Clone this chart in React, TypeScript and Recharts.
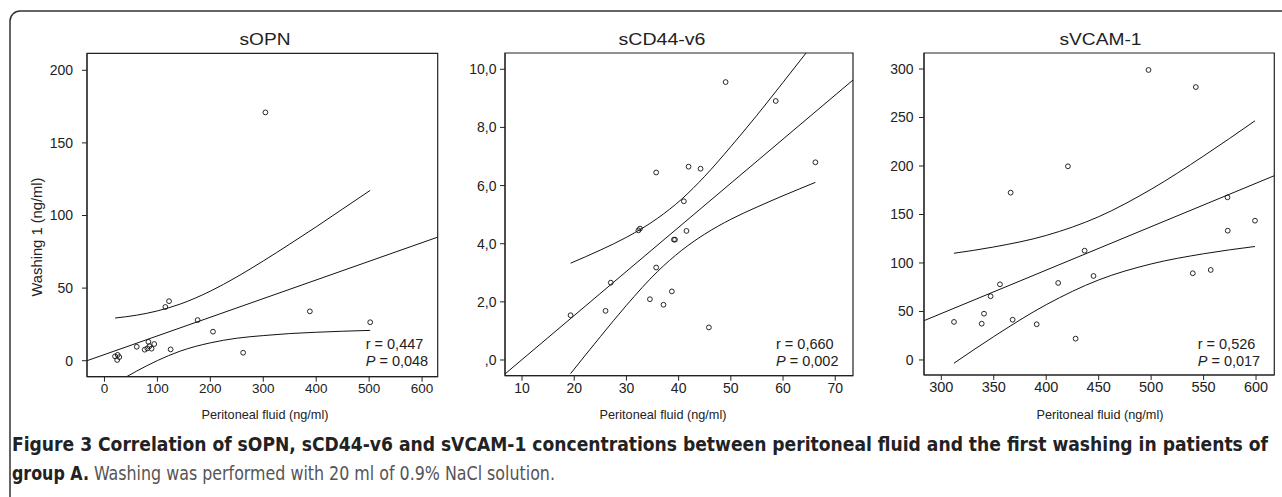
import React from 'react';
import { ComposedChart, XAxis, YAxis, Scatter, Line, ReferenceArea } from 'recharts';

// ---------- sOPN ----------
const opnX = [304, 122, 115, 176, 205, 388, 502, 262, 125, 61, 83, 94, 76, 81, 89, 85, 20, 25, 28, 24];
const opnY = [171, 41, 37, 28, 20, 34, 26.5, 5.5, 7.8, 9.6, 13, 11.5, 7.6, 8.5, 8.3, 10, 3, 4, 2.5, 0.5];
const opnFitX = [-33, 629.5];
const opnFitY = [0, 85.1];
const opnBandX = [20, 60, 100, 143, 200, 250, 300, 350, 400, 450, 502];
const opnUpper = [29.4, 31.3, 34.3, 39.0, 47.9, 57.7, 68.7, 80.3, 92.2, 104.5, 117.3];
const opnLower = [-15.6, -7.3, 0.1, 6.6, 12.3, 15.5, 17.3, 18.7, 19.6, 20.3, 20.9];
const opnXTicks = [0, 100, 200, 300, 400, 500, 600];
const opnXLabels = ['0', '100', '200', '300', '400', '500', '600'];
const opnYTicks = [0, 50, 100, 150, 200];
const opnYLabels = ['0', '50', '100', '150', '200'];

// ---------- sCD44-v6 ----------
const cdX = [49.0, 58.6, 66.2, 35.7, 41.9, 44.2, 41.0, 32.3, 32.6, 39.1, 39.3, 41.5, 35.7, 27.0, 19.3, 26.0, 34.5, 37.1, 38.7, 45.8];
const cdY = [9.56, 8.91, 6.80, 6.45, 6.65, 6.58, 5.46, 4.46, 4.52, 4.14, 4.14, 4.44, 3.18, 2.66, 1.54, 1.69, 2.09, 1.90, 2.36, 1.12];
const cdFitX = [6.74, 73.4];
const cdFitY = [-0.48, 9.63];
const cdBandX = [19.3, 25, 30, 36, 40.5, 45, 50, 55, 60, 66.2];
const cdUpper = [3.33, 3.78, 4.22, 4.88, 5.52, 6.32, 7.34, 8.42, 9.55, 10.97];
const cdLower = [-0.47, 0.80, 1.88, 3.05, 3.76, 4.33, 4.84, 5.26, 5.65, 6.11];
const cdXTicks = [10, 20, 30, 40, 50, 60, 70];
const cdXLabels = ['10', '20', '30', '40', '50', '60', '70'];
const cdYTicks = [0, 2, 4, 6, 8, 10];
const cdYLabels = [',0', '2,0', '4,0', '6,0', '8,0', '10,0'];

// ---------- sVCAM-1 ----------
const vcX = [497.5, 542.6, 420.7, 366.1, 572.8, 599, 573, 436.6, 445.1, 411.4, 355.9, 347, 340.7, 338.5, 312.1, 368, 390.9, 428, 539.7, 556.8];
const vcY = [299, 281.4, 199.7, 172.5, 167.7, 143.6, 133.3, 112.7, 86.6, 79.4, 78, 65.7, 47.7, 37.4, 39.2, 41.5, 36.8, 22, 89.4, 92.8];
const vcFitX = [283.5, 617.4];
const vcFitY = [40.5, 190];
const vcBandX = [312, 350, 400, 450, 500, 550, 599];
const vcUpper = [110, 116.5, 128.4, 147.7, 176, 210.3, 246.6];
const vcLower = [-3.4, 24.1, 57.0, 82.5, 99, 109.5, 117];
const vcXTicks = [300, 350, 400, 450, 500, 550, 600];
const vcXLabels = ['300', '350', '400', '450', '500', '550', '600'];
const vcYTicks = [0, 50, 100, 150, 200, 250, 300];
const vcYLabels = ['0', '50', '100', '150', '200', '250', '300'];

const titles = ['sOPN', 'sCD44-v6', 'sVCAM-1'];
const stats = [['0,447', '0,048'], ['0,660', '0,002'], ['0,526', '0,017']];
const xTitle = 'Peritoneal fluid (ng/ml)';
const yTitle = 'Washing 1 (ng/ml)';
const captionBold1 = 'Figure 3 Correlation of sOPN, sCD44-v6 and sVCAM-1 concentrations between peritoneal fluid and the first washing in patients of';
const captionBold2 = 'group A.';
const captionRest = ' Washing was performed with 20 ml of 0.9% NaCl solution.';

type Pt = { x: number; y: number };
const zip = (xs: number[], ys: number[]): Pt[] => xs.map((x, i) => ({ x, y: ys[i] }));

const FONT = '"Liberation Sans", Arial, Helvetica, sans-serif';
const NARROW = '"Liberation Sans Narrow", "DejaVu Sans Condensed", "Liberation Sans", Arial, sans-serif';

const Dot = (props: any) => (
  <circle cx={props.cx} cy={props.cy} r={2.4} fill="none" stroke="#111" strokeWidth={0.9} />
);

type PanelProps = {
  plot: [number, number, number, number];
  xDomain: [number, number];
  yDomain: [number, number];
  xTicks: number[];
  xLabels: string[];
  yTicks: number[];
  yLabels: string[];
  points: Pt[];
  fit: Pt[];
  upper: Pt[];
  lower: Pt[];
  xFont: number;
  yFont: number;
  yTickMargin: number;
};

function Panel(p: PanelProps) {
  const yW = 70;
  const left = p.plot[0] - yW;
  const width = p.plot[2] - left + 10;
  const height = p.plot[3] + 40;
  return (
    <div style={{ position: 'absolute', left, top: 0 }}>
      <ComposedChart width={width} height={height} margin={{ top: p.plot[1], right: 10, bottom: 10, left: 0 }}>
        <XAxis
          dataKey="x"
          type="number"
          domain={p.xDomain}
          ticks={p.xTicks}
          allowDataOverflow
          interval={0}
          height={30}
          tickSize={5}
          tickMargin={2}
          stroke="#222"
          tick={{ fontSize: p.xFont, fill: '#222', fontFamily: FONT }}
          tickFormatter={(v: number) => p.xLabels[p.xTicks.indexOf(v)]}
        />
        <YAxis
          dataKey="y"
          type="number"
          domain={p.yDomain}
          ticks={p.yTicks}
          allowDataOverflow
          interval={0}
          width={yW}
          tickSize={5}
          tickMargin={p.yTickMargin}
          stroke="#222"
          tick={{ fontSize: p.yFont, fill: '#222', fontFamily: FONT }}
          tickFormatter={(v: number) => p.yLabels[p.yTicks.indexOf(v)]}
        />
        <ReferenceArea
          x1={p.xDomain[0]}
          x2={p.xDomain[1]}
          y1={p.yDomain[0]}
          y2={p.yDomain[1]}
          fill="none"
          fillOpacity={0}
          stroke="#222"
          strokeWidth={1.2}
          ifOverflow="visible"
        />
        <Line data={p.fit} dataKey="y" type="linear" stroke="#111" strokeWidth={1} dot={false} activeDot={false} isAnimationActive={false} />
        <Line data={p.upper} dataKey="y" type="monotone" stroke="#111" strokeWidth={1} dot={false} activeDot={false} isAnimationActive={false} />
        <Line data={p.lower} dataKey="y" type="monotone" stroke="#111" strokeWidth={1} dot={false} activeDot={false} isAnimationActive={false} />
        <Scatter data={p.points} dataKey="y" shape={Dot} isAnimationActive={false} />
      </ComposedChart>
    </div>
  );
}

const titleX = [265, 662, 1100.5];
const titleLen = [51, 87, 82];
const xTitleX = [265, 663, 1100];
const statX = [365.7, 776, 1197.7];

export default function App() {
  return (
    <div style={{ position: 'absolute', left: 0, top: 0, width: 1282, height: 497, background: '#fff', overflow: 'hidden' }}>
      <svg width={1282} height={497} style={{ position: 'absolute', left: 0, top: 0 }}>
        <rect x={10} y={11} width={1300} height={540} rx={10} ry={10} fill="none" stroke="#333" strokeWidth={1.5} />
        {titles.map((t, i) => (
          <text key={t} x={titleX[i]} y={45} textAnchor="middle" fontFamily={FONT} fontSize={16} fill="#222" textLength={titleLen[i]} lengthAdjust="spacingAndGlyphs">
            {t}
          </text>
        ))}
        {xTitleX.map((x, i) => (
          <text key={'xt' + i} x={x} y={419} textAnchor="middle" fontFamily={FONT} fontSize={13} fill="#222" textLength={127} lengthAdjust="spacingAndGlyphs">
            {xTitle}
          </text>
        ))}
        <text x={0} y={0} transform="translate(42,237) rotate(-90)" textAnchor="middle" fontFamily={FONT} fontSize={14.5} fill="#222" textLength={119} lengthAdjust="spacingAndGlyphs">
          {yTitle}
        </text>
        {stats.map((s, i) => (
          <g key={'st' + i} fontFamily={FONT} fontSize={14.5} fill="#222">
            <text x={statX[i]} y={349}>{'r = ' + s[0]}</text>
            <text x={statX[i]} y={365.7}>
              <tspan fontStyle="italic">P</tspan>
              {' = ' + s[1]}
            </text>
          </g>
        ))}
        <text x={12} y={451} fontFamily={NARROW} fontWeight="bold" fontSize={19} fill="#222" textLength={1256} lengthAdjust="spacingAndGlyphs">
          {captionBold1}
        </text>
        <text x={12} y={480} fontFamily={NARROW} fontSize={19} fill="#555" textLength={543} lengthAdjust="spacingAndGlyphs">
          <tspan fontWeight="bold" fill="#222">{captionBold2}</tspan>
          {captionRest}
        </text>
      </svg>
      <Panel
        plot={[87, 53.3, 437.7, 376.7]}
        xDomain={[-33, 629.5]}
        yDomain={[-11, 211.7]}
        xTicks={opnXTicks}
        xLabels={opnXLabels}
        yTicks={opnYTicks}
        yLabels={opnYLabels}
        points={zip(opnX, opnY)}
        fit={zip(opnFitX, opnFitY)}
        upper={zip(opnBandX, opnUpper)}
        lower={zip(opnBandX, opnLower)}
        xFont={13.5}
        yFont={14}
        yTickMargin={9}
      />
      <Panel
        plot={[505.3, 53, 853.3, 375.7]}
        xDomain={[6.74, 73.4]}
        yDomain={[-0.54, 10.56]}
        xTicks={cdXTicks}
        xLabels={cdXLabels}
        yTicks={cdYTicks}
        yLabels={cdYLabels}
        points={zip(cdX, cdY)}
        fit={zip(cdFitX, cdFitY)}
        upper={zip(cdBandX, cdUpper)}
        lower={zip(cdBandX, cdLower)}
        xFont={14}
        yFont={14}
        yTickMargin={3.5}
      />
      <Panel
        plot={[924, 53, 1274.3, 375]}
        xDomain={[283.5, 617.4]}
        yDomain={[-15.5, 316.5]}
        xTicks={vcXTicks}
        xLabels={vcXLabels}
        yTicks={vcYTicks}
        yLabels={vcYLabels}
        points={zip(vcX, vcY)}
        fit={zip(vcFitX, vcFitY)}
        upper={zip(vcBandX, vcUpper)}
        lower={zip(vcBandX, vcLower)}
        xFont={14.5}
        yFont={14}
        yTickMargin={5.5}
      />
    </div>
  );
}
